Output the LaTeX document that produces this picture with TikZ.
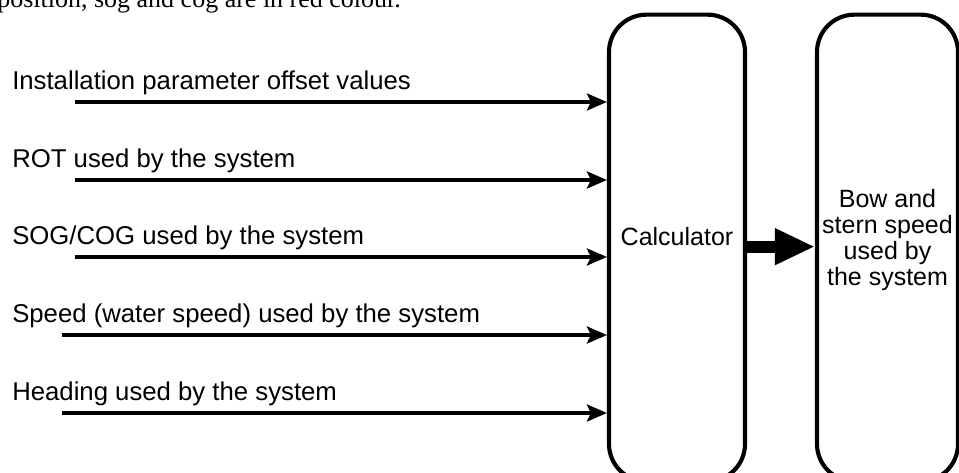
\documentclass[tikz,border=0pt]{standalone}
\usepackage{fontspec}
\setmainfont{Liberation Sans}
\newfontfamily\bodyserif{Liberation Serif}
\usetikzlibrary{positioning, arrows.meta, calc}

\begin{document}
\begin{tikzpicture}[
    x=0.75pt, y=-0.75pt,
    blockbox/.style={rectangle, rounded corners=28pt, draw, line width=3.1pt, minimum width=102pt, minimum height=350pt, inner sep=0pt},
    boxtext/.style={align=center, inner sep=0pt, font=\fontsize{18.75}{19.5}\selectfont},
    lbl/.style={anchor=base west, inner sep=0pt, font=\fontsize{19.3}{22}\selectfont},
    inarr/.style={-{Stealth[length=15pt, width=12.75pt, inset=3pt]}, line width=2.5pt},
    bigarr/.style={-{Triangle[length=30pt, width=25.5pt]}, line width=9pt},
]
\useasboundingbox (0,0) rectangle (959,473);
\clip (0,0) rectangle (959,473);

% cut-off line of the surrounding text
\node[anchor=base west, inner sep=0pt, font=\bodyserif\fontsize{19.5}{22}\selectfont] (caption) at (-3,8) {position, sog and cog are in red colour.};

% blocks
\node[blockbox] (calc) at (677,248) {};
\node[blockbox, minimum width=105.75pt] (out) at (887.5,248) {};
\node[boxtext] (calctxt) at ([yshift=8.25pt]calc.center) {Calculator};
\node[boxtext] (outtxt) at ([yshift=6pt]out.center) {Bow and\\stern speed\\used by\\the system};

% inputs
\node[lbl] (lbl1) at (12,90) {Installation parameter offset values};
\node[lbl] (lbl2) at (12,168) {ROT used by the system};
\node[lbl] (lbl3) at (12,245) {SOG/COG used by the system};
\node[lbl] (lbl4) at (12,323) {Speed (water speed) used by the system};
\node[lbl] (lbl5) at (12,401) {Heading used by the system};

\coordinate (in1) at (75,102);
\coordinate (in2) at (75,180);
\coordinate (in3) at (75,257);
\coordinate (in4) at (62,335);
\coordinate (in5) at (62,413);

\draw[inarr] (in1) -- (in1 -| calc.west);
\draw[inarr] (in2) -- (in2 -| calc.west);
\draw[inarr] (in3) -- (in3 -| calc.west);
\draw[inarr] (in4) -- (in4 -| calc.west);
\draw[inarr] (in5) -- (in5 -| calc.west);

% output
\draw[bigarr] ([yshift=1pt]calc.east) -- ([yshift=1pt]out.west);
\end{tikzpicture}
\end{document}
